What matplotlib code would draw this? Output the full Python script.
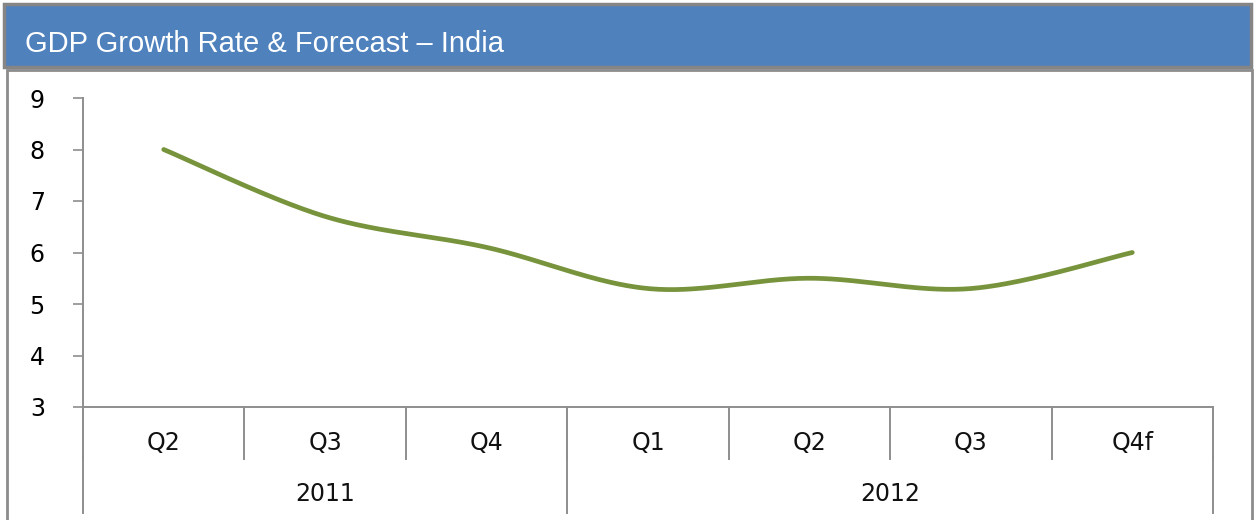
import numpy as np
import matplotlib
matplotlib.use("Agg")
import matplotlib.pyplot as plt
from matplotlib.patches import Rectangle
from matplotlib.transforms import blended_transform_factory

plt.rcParams['font.family'] = ['Liberation Sans', 'DejaVu Sans']

title = "GDP Growth Rate & Forecast – India"
quarters = ["Q2", "Q3", "Q4", "Q1", "Q2", "Q3", "Q4f"]
years = ["2011", "2012"]
year_counts = [3, 4]
gdp = [8.0, 6.7, 6.1, 5.3, 5.5, 5.3, 6.0]
yticks = [3, 4, 5, 6, 7, 8, 9]

W, H = 1254, 520
fig = plt.figure(figsize=(W / 100, H / 100), dpi=100)
fig.patch.set_facecolor("white")

LBL_FONT = ['DejaVu Sans']
LBL_SIZE = 17

def fx(px):
    return px / W

def fy(py):
    return 1 - py / H

# outer frame below the title
fig.patches.append(Rectangle((fx(7), fy(540)), fx(1252) - fx(7), fy(70) - fy(540),
                             transform=fig.transFigure, facecolor="none",
                             edgecolor="#8C8C8C", linewidth=2.0, zorder=0))
# title bar
fig.patches.append(Rectangle((fx(4), fy(67)), fx(1251) - fx(4), fy(4) - fy(67),
                             transform=fig.transFigure, facecolor="#4F81BD",
                             edgecolor="#858585", linewidth=2.5, zorder=1))
fig.text(fx(25), fy(44), title, color="white", fontsize=21,
         va="center", ha="left")

ax = fig.add_axes([fx(83), fy(407), fx(1213) - fx(83), fy(98) - fy(407)])
ax.set_zorder(2)
ax.patch.set_alpha(0)
ax.set_xlim(0, len(quarters))
ax.set_ylim(3, 9)

# Excel-like smoothed line (Bezier with 1/6 tension)
xs = np.arange(len(gdp)) + 0.5
ys = np.array(gdp, dtype=float)
pts = np.column_stack([xs, ys])
curve = []
n = len(pts)
for i in range(n - 1):
    p0 = pts[i - 1] if i > 0 else pts[i]
    p1 = pts[i]
    p2 = pts[i + 1]
    p3 = pts[i + 2] if i + 2 < n else pts[i + 1]
    c1 = p1 + (p2 - p0) / 6.0
    c2 = p2 - (p3 - p1) / 6.0
    t = np.linspace(0, 1, 60)[:, None]
    seg = ((1 - t) ** 3) * p1 + 3 * ((1 - t) ** 2) * t * c1 + 3 * (1 - t) * t ** 2 * c2 + t ** 3 * p2
    curve.append(seg if i == 0 else seg[1:])
curve = np.vstack(curve)
ax.plot(curve[:, 0], curve[:, 1], color="#77933C", linewidth=3.4,
        solid_capstyle="round", zorder=3)

axis_col = "#8E8E8E"
for s in ["top", "right"]:
    ax.spines[s].set_visible(False)
ax.spines["left"].set_color(axis_col)
ax.spines["bottom"].set_color(axis_col)
ax.spines["left"].set_linewidth(1.4)
ax.spines["bottom"].set_linewidth(1.4)
ax.set_yticks(yticks)
ax.set_yticklabels([str(v) for v in yticks], fontsize=LBL_SIZE, family=LBL_FONT)
ax.tick_params(axis="y", length=7.5, width=1.2, color=axis_col, pad=20)
ax.set_xticks([])

trans = blended_transform_factory(ax.transData, ax.transAxes)
ah = fy(98) - fy(407)
def ay(py):
    return (fy(py) - fy(407)) / ah

# quarter dividers & labels
for i in range(len(quarters) + 1):
    ax.plot([i, i], [0, ay(459)], transform=trans, color=axis_col,
            linewidth=1.4, clip_on=False)
for i, q in enumerate(quarters):
    ax.text(i + 0.5, ay(443), q, transform=trans, ha="center", va="center",
            fontsize=LBL_SIZE, family=LBL_FONT, color="#111111")
# year dividers & labels
bounds = [0]
for c in year_counts:
    bounds.append(bounds[-1] + c)
for b in bounds:
    ax.plot([b, b], [0, ay(513)], transform=trans, color=axis_col,
            linewidth=1.4, clip_on=False)
for yname, a, b in zip(years, bounds[:-1], bounds[1:]):
    ax.text((a + b) / 2, ay(494), yname, transform=trans, ha="center",
            va="center", fontsize=LBL_SIZE, family=LBL_FONT, color="#111111")

fig.savefig("out.png", dpi=100)
